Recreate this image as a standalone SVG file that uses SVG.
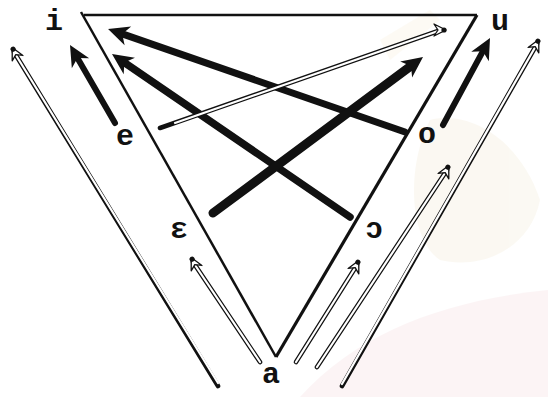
<svg xmlns="http://www.w3.org/2000/svg" width="548" height="397" viewBox="0 0 548 397">
<style>
.lbl{font-family:"Liberation Mono","Courier New",monospace;font-weight:bold;font-size:30px;fill:#111;text-anchor:middle}
.tri{fill:none;stroke:#111;stroke-linejoin:miter}
.thick{fill:none;stroke:#111;stroke-linecap:round}
.out{fill:none;stroke:#111;stroke-width:4.6;stroke-linecap:round}
.in{fill:none;stroke:#fff;stroke-width:2.2;stroke-linecap:round}
</style>
<defs>
<marker id="hd" viewBox="-22 -11 24 22" refX="-12" refY="0" markerWidth="24" markerHeight="22" markerUnits="userSpaceOnUse" orient="auto">
<path d="M0,0 L-21,-10 L-15,0 L-21,10 Z" fill="#111"/>
</marker>
<marker id="oh" viewBox="-14 -8 16 16" refX="-4" refY="0" markerWidth="16" markerHeight="16" markerUnits="userSpaceOnUse" orient="auto">
<path d="M0,0 L-12,-6 L-8,0 L-12,6 Z" fill="#fff" stroke="#111" stroke-width="1.3" stroke-linejoin="round"/>
<circle cx="-2" cy="0" r="2.6" fill="#111"/>
</marker>
</defs>
<rect width="548" height="397" fill="#fff"/>
<g id="watermark" opacity="0.4">
<path d="M300,397 C360,330 450,300 548,290 L548,397 Z" fill="#f8e6e8"/>
<path d="M430,120 C470,110 520,140 540,200 C530,250 480,270 440,260 C410,240 405,170 430,120 Z" fill="#f6f0e0"/>
<path d="M380,40 L430,10 L440,20 L390,60 Z" fill="#fbf5e6"/>
</g>
<g id="triangle">
<path class="tri" d="M84,15 L477,15" stroke-width="2.5"/>
<path class="tri" d="M81,12 L276,357" stroke-width="2.5"/>
<path class="tri" d="M477,15 L276,357" stroke-width="3.2"/>
</g>
<g id="connectors">
<path class="thick" d="M115,123 L76,55.4" stroke-width="6" marker-end="url(#hd)"/>
<path class="thick" d="M405,132 L119.4,32.9" stroke-width="7" marker-end="url(#hd)"/>
<path class="thick" d="M350,217 L121.9,60.8" stroke-width="7.5" marker-end="url(#hd)"/>
<path class="thick" d="M213,213 L413.4,64.2" stroke-width="9" marker-end="url(#hd)"/>
<path class="thick" d="M443,125 L484.3,48.6" stroke-width="6" marker-end="url(#hd)"/>
<g id="thin-e-u">
<path class="out" d="M160,128 L441,30" stroke-width="4.5"/>
<path class="in" d="M175,123 L441,30" stroke-width="2"/>
<path d="M441,30 L442,30" fill="none" stroke="none" marker-end="url(#oh)"/>
</g>
<g id="left-outer">
<path class="out" d="M218,386 L14,52"/>
<path class="in" d="M218,383 L14,52"/>
<path d="M15,53 L14,51" fill="none" stroke="none" marker-end="url(#oh)"/>
</g>
<g id="left-inner">
<path class="out" d="M260,362 L193,262"/>
<path class="in" d="M260,362 L193,262"/>
<path d="M194,263 L193,261" fill="none" stroke="none" marker-end="url(#oh)"/>
</g>
<g id="right-inner">
<path class="out" d="M296,362 L357,265"/>
<path class="in" d="M296,362 L357,265"/>
<path d="M356,266 L357,264" fill="none" stroke="none" marker-end="url(#oh)"/>
</g>
<g id="right-middle">
<path class="out" d="M317,367 L447,170"/>
<path class="in" d="M317,367 L447,170"/>
<path d="M446,171 L447,169" fill="none" stroke="none" marker-end="url(#oh)"/>
</g>
<g id="right-outer">
<path class="out" d="M342,386 L537,44"/>
<path class="in" d="M342,384 L537,44"/>
<path d="M536,45 L537,43" fill="none" stroke="none" marker-end="url(#oh)"/>
</g>
</g>
<g id="node-i"><text class="lbl" x="54" y="30">i</text></g>
<g id="node-u"><text class="lbl" x="500" y="30">u</text></g>
<g id="node-e"><text class="lbl" x="125" y="145">e</text></g>
<g id="node-o"><text class="lbl" x="427" y="143">o</text></g>
<g id="node-epsilon"><text class="lbl" x="179" y="238">ε</text></g>
<g id="node-open-o"><text class="lbl" x="374" y="238">ɔ</text></g>
<g id="node-a"><text class="lbl" x="271" y="383">a</text></g>
</svg>
